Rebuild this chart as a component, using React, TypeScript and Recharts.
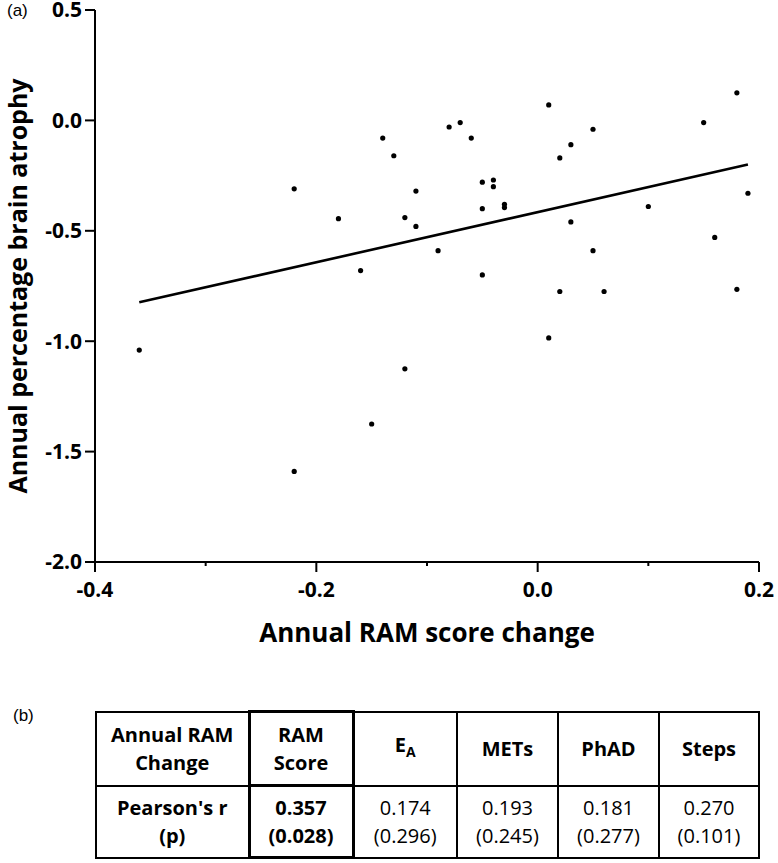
import React from 'react';
import { ScatterChart, Scatter, XAxis, YAxis, ReferenceLine } from 'recharts';

// annual RAM score change (x) and annual % brain atrophy (y), one entry per participant
const ramChange = [
  -0.36, -0.22, -0.22, -0.18, -0.16, -0.15, -0.14, -0.13, -0.12, -0.12,
  -0.11, -0.11, -0.09, -0.08, -0.07, -0.06, -0.05, -0.05, -0.05, -0.04,
  -0.04, -0.03, -0.03, 0.01, 0.01, 0.02, 0.02, 0.03, 0.03, 0.05,
  0.05, 0.06, 0.1, 0.15, 0.16, 0.18, 0.18, 0.19,
];
const brainAtrophy = [
  -1.04, -0.31, -1.59, -0.445, -0.68, -1.375, -0.08, -0.16, -0.44, -1.125,
  -0.32, -0.48, -0.59, -0.03, -0.01, -0.08, -0.28, -0.4, -0.7, -0.27,
  -0.3, -0.38, -0.395, 0.07, -0.985, -0.17, -0.775, -0.11, -0.46, -0.04,
  -0.59, -0.775, -0.39, -0.01, -0.53, 0.125, -0.765, -0.33,
];

// regression line end points
const fitX = [-0.36, 0.19];
const fitY = [-0.824, -0.2];

const xTicks = [-0.4, -0.3, -0.2, -0.1, 0, 0.1, 0.2];
const xMajorTicks = [-0.4, -0.2, 0, 0.2];
const yTicks = [0.5, 0, -0.5, -1, -1.5, -2];

// table (b)
const tableHeaders = ['Annual RAM Change', 'RAM Score', 'EA', 'METs', 'PhAD', 'Steps'];
const pearsonR = ['0.357', '0.174', '0.193', '0.181', '0.270'];
const pValues = ['(0.028)', '(0.296)', '(0.245)', '(0.277)', '(0.101)'];

const points = ramChange.map((x, i) => ({ x, y: brainAtrophy[i] }));
const fitSegment = fitX.map((x, i) => ({ x, y: fitY[i] }));

const FONT = '"Open Sans", sans-serif';
const TICK_SIZE = 10;
const TICK_MARGIN = 10;

const XTick = (props: any) => {
  const { x, y, payload } = props;
  const axisY = y - TICK_SIZE - TICK_MARGIN;
  const major = xMajorTicks.some((t) => Math.abs(t - payload.value) < 1e-9);
  return (
    <g>
      <line x1={x} x2={x} y1={axisY} y2={axisY + (major ? TICK_SIZE : 4)} stroke="#000" strokeWidth={2} />
      {major && (
        <text x={x} y={y} dy="0.71em" textAnchor="middle" fontFamily={FONT} fontWeight={700} fontSize={21} fill="#000">
          {payload.value.toFixed(1)}
        </text>
      )}
    </g>
  );
};

const YLabel = (props: any) => {
  const { viewBox } = props;
  const x = viewBox.x - 8;
  const y = viewBox.y + viewBox.height / 2;
  return (
    <text x={x} y={y} transform={`rotate(-90, ${x}, ${y})`} textAnchor="middle" fontFamily={FONT} fontWeight={700} fontSize={25} fill="#000">
      Annual percentage brain atrophy
    </text>
  );
};

const XLabel = (props: any) => {
  const { viewBox } = props;
  return (
    <text x={viewBox.x + viewBox.width / 2} y={viewBox.y + 80} textAnchor="middle" fontFamily={FONT} fontWeight={700} fontSize={26} fill="#000">
      Annual RAM score change
    </text>
  );
};

const Dot = (props: any) => <circle cx={props.cx} cy={props.cy} r={2.6} fill="#000" />;

const cellBase: React.CSSProperties = {
  border: '2px solid #000',
  textAlign: 'center',
  verticalAlign: 'middle',
  padding: 0,
  fontFamily: FONT,
  fontSize: 20,
  lineHeight: '28px',
  color: '#000',
};
const thick: React.CSSProperties = { border: '3.5px solid #000' };
const colWidths = [153, 104, 104, 101, 101, 100];

const App: React.FC = () => {
  return (
    <div style={{ position: 'absolute', left: 0, top: 0, width: 778, height: 863, background: '#fff' }}>
      <div style={{ position: 'absolute', left: 7, top: 1, fontFamily: '"Liberation Sans", Arial, sans-serif', fontSize: 17 }}>(a)</div>
      <ScatterChart width={778} height={680} margin={{ top: 10, right: 19, bottom: 58, left: 35 }}>
        <XAxis
          type="number"
          dataKey="x"
          domain={[-0.4, 0.2]}
          ticks={xTicks}
          interval={0}
          height={60}
          axisLine={{ stroke: '#000', strokeWidth: 2 }}
          tickLine={false}
          tickSize={TICK_SIZE}
          tickMargin={TICK_MARGIN}
          tick={<XTick />}
          label={<XLabel />}
        />
        <YAxis
          type="number"
          dataKey="y"
          domain={[-2, 0.5]}
          ticks={yTicks}
          interval={0}
          width={60}
          axisLine={{ stroke: '#000', strokeWidth: 2 }}
          tickLine={{ stroke: '#000', strokeWidth: 2 }}
          tickSize={10}
          tickMargin={3}
          tickFormatter={(v: number) => v.toFixed(1)}
          tick={{ fill: '#000', fontFamily: FONT, fontWeight: 700, fontSize: 21 }}
          label={<YLabel />}
        />
        <ReferenceLine segment={fitSegment} stroke="#000" strokeWidth={2.6} />
        <Scatter data={points} shape={<Dot />} isAnimationActive={false} />
      </ScatterChart>

      <div style={{ position: 'absolute', left: 13, top: 706, fontFamily: '"Liberation Sans", Arial, sans-serif', fontSize: 17 }}>(b)</div>
      <table style={{ position: 'absolute', left: 95, top: 710, borderCollapse: 'collapse', tableLayout: 'fixed', width: 663 }}>
        <colgroup>
          {colWidths.map((w, i) => (
            <col key={i} style={{ width: w }} />
          ))}
        </colgroup>
        <tbody>
          <tr style={{ height: 74 }}>
            <td style={{ ...cellBase, fontWeight: 700 }}>Annual RAM<br />Change</td>
            <td style={{ ...cellBase, ...thick, fontWeight: 700 }}>RAM<br />Score</td>
            <td style={{ ...cellBase, fontWeight: 700 }}>
              E<sub style={{ fontSize: 14, verticalAlign: -5 }}>A</sub>
            </td>
            {tableHeaders.slice(3).map((h) => (
              <td key={h} style={{ ...cellBase, fontWeight: 700 }}>{h}</td>
            ))}
          </tr>
          <tr style={{ height: 72 }}>
            <td style={{ ...cellBase, fontWeight: 700 }}>Pearson's r<br />(p)</td>
            {pearsonR.map((r, i) => (
              <td key={i} style={{ ...cellBase, ...(i === 0 ? thick : {}), fontWeight: i === 0 ? 700 : 400 }}>
                {r}<br />{pValues[i]}
              </td>
            ))}
          </tr>
        </tbody>
      </table>
    </div>
  );
};

export default App;
